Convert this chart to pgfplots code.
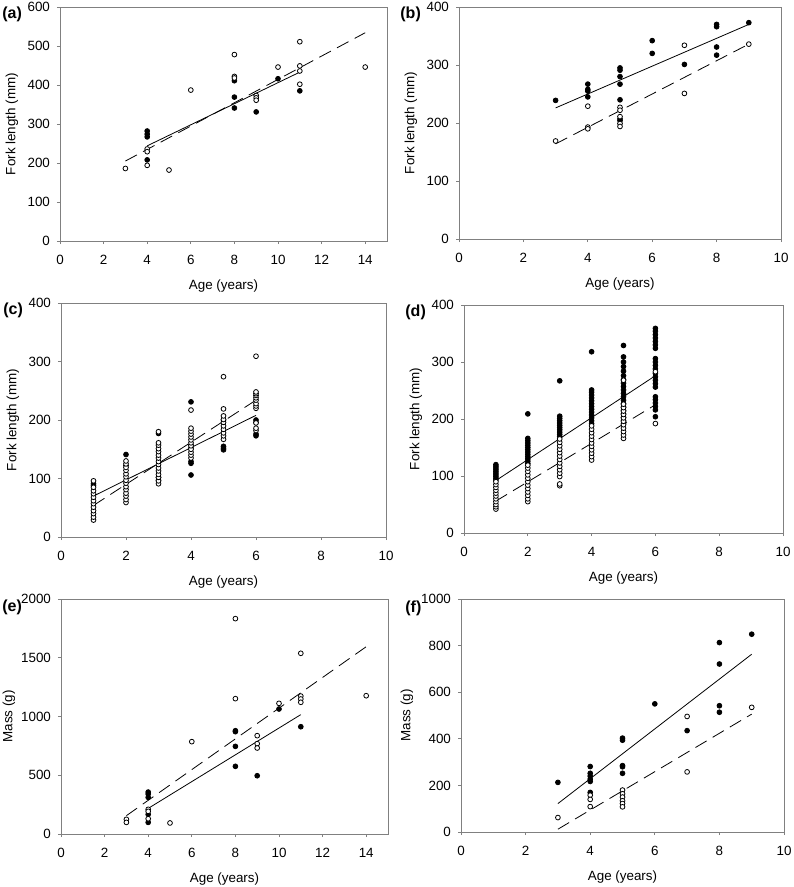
\documentclass[border=0pt]{standalone}
\usepackage{fontspec}
\setmainfont{Liberation Sans}
\usepackage{pgfplots}
\pgfplotsset{compat=1.18}

\pgfplotsset{
  panel/.style={
    scale only axis,
    axis line style={black!50, line width=0.5pt},
    tick style={black!50, line width=0.5pt},
    tick align=outside,
    tick pos=left,
    major tick length=1.5pt,
    xmin=0, ymin=0,
    tick label style={font=\fontsize{6.7}{8}\selectfont},
    label style={font=\fontsize{6.7}{8}\selectfont},
    /pgf/number format/assume math mode=true,
    /pgf/number format/1000 sep={},
    scaled ticks=false,
    xticklabel style={yshift=-2pt},
    xlabel={Age (years)},
    xlabel style={at={(axis description cs:0.5,0)}, anchor=center, yshift=-22.5pt},
    ylabel style={at={(axis description cs:0,0.5)}, anchor=center, yshift=24pt},
    clip=false,
  },
  open/.style={only marks, mark=*, mark size=1.2pt,
    mark options={fill=white, draw=black, line width=0.4pt}},
  filled/.style={only marks, mark=*, mark size=1.2pt,
    mark options={fill=black, draw=black, line width=0.4pt}},
  fitsolid/.style={black, line width=0.4pt, no marks},
  fitdash/.style={black, line width=0.4pt, no marks, dash pattern=on 6.5pt off 3.5pt},
}
\tikzset{plabel/.style={font=\bfseries\fontsize{8}{9}\selectfont, anchor=west, inner sep=0pt}}

\begin{document}
\begin{tikzpicture}
\useasboundingbox (0,0) rectangle (396.5pt,-443.5pt);

% (a)
\begin{axis}[panel, at={(30pt,-120.5pt)}, anchor=south west,
  width=163.5pt, height=117pt, xmax=15, ymax=600,
  xtick={0,2,...,14}, ytick={0,100,...,600}, ylabel={Fork length (mm)}]
\addplot[filled] coordinates {(4,282)(4,274)(4,267)(4,208)(8,411)(8,369)(8,341)(9,331)(10,416)(11,385)};
\addplot[open] coordinates {(3,186)(4,236)(4,229)(4,194)(5,182)(6,387)(8,478)(8,422)(8,418)(9,373)(9,367)(9,361)(10,446)(11,511)(11,449)(11,436)(11,402)(14,446)};
\addplot[fitsolid] coordinates {(4,244)(11,433)};
\addplot[fitdash] coordinates {(3,205)(14,534)};
\end{axis}
\node[plabel] at (1pt,-7pt) {(a)};

% (b)
\begin{axis}[panel, at={(229.5pt,-119.5pt)}, anchor=south west,
  width=161pt, height=116pt, xmax=10, ymax=400,
  xtick={0,2,...,10}, ytick={0,100,...,400}, ylabel={Fork length (mm)}]
\addplot[filled] coordinates {(3,239)(4,267)(4,258)(4,255)(4,245)(5,295)(5,291)(5,280)(5,267)(5,240)(5,207)(5,204)(6,342)(6,320)(7,301)(8,370)(8,366)(8,331)(8,317)(9,373)};
\addplot[open] coordinates {(3,169)(4,229)(4,193)(4,190)(5,227)(5,222)(5,211)(5,199)(5,194)(7,334)(7,251)(9,336)};
\addplot[fitsolid] coordinates {(3,226)(9,370)};
\addplot[fitdash] coordinates {(3,164)(9,336)};
\end{axis}
\node[plabel] at (200pt,-7pt) {(b)};

% (c)
\begin{axis}[panel, at={(30.5pt,-268.5pt)}, anchor=south west,
  width=162.5pt, height=117pt, xmax=10, ymax=400,
  xtick={0,2,...,10}, ytick={0,100,...,400}, ylabel={Fork length (mm)}]
\addplot[filled] coordinates {(1,91)(1,88)(2,141)(2,122)(3,177)(3,102)(3,97)
  (4,231)(4,157)(4,152)(4,129)(4,126)(4,106)(5,200)(5,155)(5,152)(5,149)
  (6,200)(6,196)(6,176)(6,173)};
\addplot[open] coordinates {(1,29)(1,34)(1,40)(1,45)(1,51)(1,57)(1,62)(1,68)(1,74)(1,79)(1,85)(1,96)
  (2,59)(2,64)(2,70)(2,75)(2,81)(2,86)(2,92)(2,97)(2,103)(2,108)(2,114)(2,119)(2,125)(2,130)
  (3,91)(3,96)(3,102)(3,107)(3,113)(3,118)(3,124)(3,129)(3,135)(3,140)(3,146)(3,151)(3,157)(3,161)(3,180)
  (4,135)(4,140)(4,145)(4,150)(4,156)(4,161)(4,166)(4,171)(4,176)(4,181)(4,186)(4,217)
  (5,167)(5,173)(5,178)(5,184)(5,190)(5,196)(5,201)(5,207)(5,219)(5,274)
  (6,182)(6,186)(6,195)(6,220)(6,224)(6,228)(6,234)(6,238)(6,242)(6,245)(6,248)(6,309)};
\addplot[fitsolid] coordinates {(1,70)(6,208)};
\addplot[fitdash] coordinates {(1,54)(6,234)};
\end{axis}
\node[plabel] at (1.5pt,-155pt) {(c)};

% (d)
\begin{axis}[panel, at={(232pt,-266.5pt)}, anchor=south west,
  width=159.5pt, height=114pt, xmax=10, ymax=400,
  xtick={0,2,...,10}, ytick={0,100,...,400}, ylabel={Fork length (mm)}]
\addplot[filled] coordinates {(1,93)(1,96)(1,99)(1,102)(1,105)(1,108)(1,111)(1,114)(1,117)(1,120)
  (2,122)(2,126)(2,130)(2,134)(2,138)(2,142)(2,146)(2,150)(2,154)(2,158)(2,162)(2,166)(2,209)
  (3,169)(3,173)(3,177)(3,181)(3,185)(3,189)(3,193)(3,197)(3,201)(3,205)(3,267)
  (4,192)(4,197)(4,202)(4,207)(4,212)(4,217)(4,222)(4,227)(4,232)(4,237)(4,242)(4,247)(4,251)(4,318)
  (5,192)(5,197)(5,203)(5,209)(5,215)(5,221)(5,227)(5,233)(5,239)(5,245)(5,251)(5,257)(5,263)(5,269)(5,276)(5,284)(5,292)(5,300)(5,309)(5,329)
  (6,204)(6,216)(6,222)(6,228)(6,234)(6,239)(6,256)(6,262)(6,268)(6,274)(6,280)(6,288)(6,294)(6,300)(6,306)(6,324)(6,330)(6,336)(6,342)(6,348)(6,354)(6,359)};
\addplot[open] coordinates {(1,42)(1,46)(1,50)(1,55)(1,60)(1,65)(1,70)(1,75)(1,80)(1,85)(1,90)
  (2,55)(2,60)(2,66)(2,72)(2,78)(2,84)(2,90)(2,96)(2,102)(2,108)(2,114)(2,119)
  (3,83)(3,86)(3,99)(3,105)(3,111)(3,117)(3,123)(3,129)(3,135)(3,141)(3,147)(3,153)(3,159)(3,165)
  (4,128)(4,134)(4,140)(4,146)(4,152)(4,158)(4,164)(4,170)(4,176)(4,182)(4,188)
  (5,166)(5,172)(5,178)(5,184)(5,190)(5,196)(5,202)(5,208)(5,214)(5,220)(5,226)(5,268)
  (6,192)(6,283)};
\addplot[fitsolid] coordinates {(1,92)(6,276)};
\addplot[fitdash] coordinates {(1,56)(6,225)};
\end{axis}
\node[plabel] at (202.5pt,-156pt) {(d)};

% (e)
\begin{axis}[panel, at={(30.5pt,-417pt)}, anchor=south west,
  width=163.5pt, height=117.5pt, xmax=15, ymax=2000,
  xtick={0,2,...,14}, ytick={0,500,...,2000}, ylabel={Mass (g)},
  ylabel style={yshift=2pt}]
\addplot[filled] coordinates {(4,357)(4,340)(4,312)(4,167)(4,99)(8,879)(8,871)(8,746)(8,576)(9,496)(10,1064)(11,913)};
\addplot[open] coordinates {(3,125)(3,99)(4,210)(4,193)(4,130)(5,94)(6,786)(8,1833)(8,1152)(9,837)(9,769)(9,732)(10,1112)(11,1538)(11,1174)(11,1149)(11,1121)(14,1177)};
\addplot[fitsolid] coordinates {(4,218)(11,1016)};
\addplot[fitdash] coordinates {(3,156)(14,1594)};
\end{axis}
\node[plabel] at (1pt,-303.5pt) {(e)};

% (f)
\begin{axis}[panel, at={(230.5pt,-416pt)}, anchor=south west,
  width=161.5pt, height=116.5pt, xmax=10, ymax=1000,
  xtick={0,2,...,10}, ytick={0,200,...,1000}, ylabel={Mass (g)},
  ylabel style={yshift=3pt}]
\addplot[filled] coordinates {(3,213)(4,281)(4,252)(4,240)(4,227)(4,217)(4,170)(5,403)(5,394)(5,285)(5,280)(5,252)(6,550)(7,435)(8,813)(8,721)(8,542)(8,514)(9,849)};
\addplot[open] coordinates {(3,62)(4,158)(4,140)(4,109)(5,180)(5,164)(5,150)(5,134)(5,122)(5,108)(7,496)(7,258)(9,535)};
\addplot[fitsolid] coordinates {(3,122)(9,763)};
\addplot[fitdash] coordinates {(3,12)(9,506)};
\end{axis}
\node[plabel] at (202.5pt,-304pt) {(f)};
\end{tikzpicture}
\end{document}
